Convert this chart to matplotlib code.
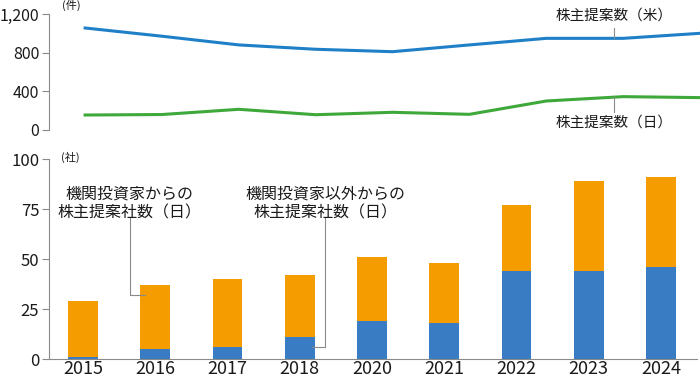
import matplotlib
import matplotlib.pyplot as plt
import numpy as np

matplotlib.use("Agg")

plt.rcParams["font.family"] = ["Noto Sans CJK JP", "DejaVu Sans"]

# top chart: shareholder proposals (count)
line_years = [2015, 2016, 2017, 2018, 2019, 2020, 2021, 2022, 2023]
us_proposals = [1055, 970, 880, 835, 810, 880, 948, 948, 1000]
jp_proposals = [155, 160, 214, 158, 183, 162, 300, 345, 335]

# bottom chart: companies receiving proposals (JP)
bar_years = ["2015", "2016", "2017", "2018", "2020", "2021", "2022", "2023", "2024"]
from_others = [1, 5, 6, 11, 19, 18, 44, 44, 46]
from_institutions = [28, 32, 34, 31, 32, 30, 33, 45, 45]

BLUE_LINE = "#1f80c8"
GREEN_LINE = "#3fa83a"
BAR_BLUE = "#3a7cc3"
BAR_ORANGE = "#f59d00"
AXIS_GRAY = "#8a8a8a"
TEXT = "#1a1a1a"

fig = plt.figure(figsize=(7.0, 3.81), dpi=100)

# ---- top line chart ----
ax1 = fig.add_axes([0.07, 0.6588, 0.93, 0.3045])
x1 = np.arange(len(line_years))
ax1.plot(x1, us_proposals, color=BLUE_LINE, linewidth=2.2, clip_on=False)
ax1.plot(x1, jp_proposals, color=GREEN_LINE, linewidth=2.2, clip_on=False)
ax1.set_xlim(-0.47, 8)
ax1.set_ylim(0, 1200)
ax1.set_yticks([0, 400, 800, 1200])
ax1.set_yticklabels(["0", "400", "800", "1,200"])
ax1.set_xticks([])
for side in ["top", "right", "bottom"]:
    ax1.spines[side].set_visible(False)
ax1.spines["left"].set_color(AXIS_GRAY)
ax1.spines["left"].set_linewidth(0.8)
ax1.tick_params(axis="y", colors=AXIS_GRAY, labelcolor=TEXT, labelsize=11.5,
                length=5, width=0.8, pad=2)
ax1.text(-0.3, 1290, "(件)", fontsize=8, color=TEXT, ha="left", va="center")

# callouts on the lines
ax1.plot([6.88, 6.88], [1050, 948], color=AXIS_GRAY, lw=0.8, clip_on=False)
ax1.text(6.88, 1185, "株主提案数（米）", fontsize=10.5, color=TEXT,
         ha="center", va="center")
ax1.plot([6.88, 6.88], [340, 186], color=AXIS_GRAY, lw=0.8, clip_on=False)
ax1.text(6.88, 72, "株主提案数（日）", fontsize=10.5, color=TEXT,
         ha="center", va="center")

# ---- bottom stacked bar chart ----
ax2 = fig.add_axes([0.07, 0.057, 0.926, 0.5255])
x2 = np.arange(len(bar_years))
ax2.bar(x2, from_others, width=0.41, color=BAR_BLUE)
ax2.bar(x2, from_institutions, width=0.41, bottom=from_others, color=BAR_ORANGE)
ax2.set_xlim(-0.47, 8.5)
ax2.set_ylim(0, 100)
ax2.set_yticks([0, 25, 50, 75, 100])
ax2.set_xticks(x2)
ax2.set_xticklabels(bar_years)
for side in ["top", "right"]:
    ax2.spines[side].set_visible(False)
for side in ["left", "bottom"]:
    ax2.spines[side].set_color(AXIS_GRAY)
    ax2.spines[side].set_linewidth(0.8)
ax2.tick_params(axis="y", colors=AXIS_GRAY, labelcolor=TEXT, labelsize=12,
                length=5, width=0.8, pad=2)
ax2.tick_params(axis="x", length=0, labelsize=13, labelcolor=TEXT, pad=0.5)
ax2.text(-0.3, 101, "(社)", fontsize=8, color=TEXT, ha="left", va="center")

# elbow leaders for the bar callouts
ax2.text(0.64, 78, "機関投資家からの\n株主提案社数（日）", fontsize=11.5,
         color=TEXT, ha="center", va="center", linespacing=1.15)
ax2.plot([0.65, 0.65, 0.86], [70.5, 32, 32], color=AXIS_GRAY, lw=0.8)

ax2.text(3.35, 78, "機関投資家以外からの\n株主提案社数（日）", fontsize=11.5,
         color=TEXT, ha="center", va="center", linespacing=1.15)
ax2.plot([3.35, 3.35, 3.17], [70.5, 6.3, 6.3], color=AXIS_GRAY, lw=0.8)

fig.savefig("out.png", dpi=100, facecolor="white")
plt.close(fig)
